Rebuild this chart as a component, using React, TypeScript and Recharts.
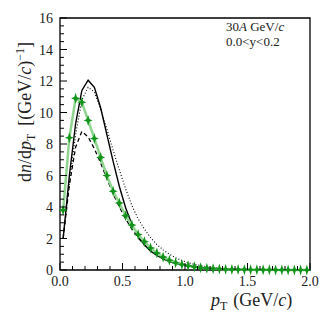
import { LineChart, Line, XAxis, YAxis, ReferenceArea } from 'recharts';

const PT = [
  0.025, 0.075, 0.125, 0.175, 0.225, 0.275, 0.325, 0.375, 0.425, 0.475,
  0.525, 0.575, 0.625, 0.675, 0.725, 0.775, 0.825, 0.875, 0.925, 0.975,
  1.025, 1.075, 1.125, 1.175, 1.225, 1.275, 1.325, 1.375, 1.425, 1.475,
  1.525, 1.575, 1.625, 1.675, 1.725, 1.775, 1.825, 1.875, 1.925, 1.975,
];

const DATA_GREEN = [
  3.8, 8.4, 10.9, 10.65, 9.5, 8.35, 7.15, 6.0, 5.0, 4.25,
  3.45, 2.85, 2.25, 1.8, 1.4, 1.08, 0.82, 0.62, 0.46, 0.35,
  0.27, 0.2, 0.15, 0.11, 0.085, 0.065, 0.05, 0.038, 0.029, 0.022,
  0.017, 0.013, 0.01, 0.008, 0.006, 0.005, 0.004, 0.003, 0.002, 0.002,
];

const MODEL_SOLID = [
  2.0, 6.0, 9.3, 11.4, 12.05, 11.6, 10.3, 8.6, 6.9, 5.3,
  3.95, 2.9, 2.15, 1.6, 1.2, 0.92, 0.7, 0.54, 0.42, 0.33,
  0.26, 0.2, 0.155, 0.12, 0.095, 0.075, 0.058, 0.045, 0.035, 0.028,
  0.022, 0.017, 0.013, 0.01, 0.008, 0.006, 0.005, 0.004, 0.003, 0.002,
];

const MODEL_DASHED = [
  2.0, 5.4, 7.8, 8.8, 8.45, 7.7, 6.8, 5.8, 4.85, 4.0,
  3.25, 2.6, 2.05, 1.6, 1.25, 0.97, 0.75, 0.58, 0.44, 0.34,
  0.26, 0.2, 0.15, 0.11, 0.085, 0.065, 0.05, 0.038, 0.029, 0.022,
  0.017, 0.013, 0.01, 0.008, 0.006, 0.005, 0.004, 0.003, 0.002, 0.002,
];

const MODEL_DOTTED = [
  2.0, 5.5, 8.6, 10.8, 11.6, 11.3, 10.2, 8.95, 7.6, 6.35,
  5.15, 4.1, 3.25, 2.6, 2.05, 1.62, 1.28, 1.0, 0.78, 0.6,
  0.46, 0.36, 0.28, 0.21, 0.16, 0.12, 0.09, 0.07, 0.054, 0.041,
  0.031, 0.024, 0.018, 0.014, 0.011, 0.008, 0.006, 0.005, 0.004, 0.003,
];

const X_TICKS = [
  0, 0.1, 0.2, 0.3, 0.4, 0.5, 0.6, 0.7, 0.8, 0.9, 1.0,
  1.1, 1.2, 1.3, 1.4, 1.5, 1.6, 1.7, 1.8, 1.9, 2.0,
];
const Y_TICKS = [
  0, 0.5, 1, 1.5, 2, 2.5, 3, 3.5, 4, 4.5, 5, 5.5, 6, 6.5, 7, 7.5, 8,
  8.5, 9, 9.5, 10, 10.5, 11, 11.5, 12, 12.5, 13, 13.5, 14, 14.5, 15, 15.5, 16,
];

const FONT = '"Liberation Serif", "DejaVu Serif", serif';

const chartData = PT.map((pt, i) => ({
  pt,
  green: DATA_GREEN[i],
  solid: MODEL_SOLID[i],
  dashed: MODEL_DASHED[i],
  dotted: MODEL_DOTTED[i],
}));

function XTick(props: any) {
  const { x, y, payload } = props;
  const v = payload.value;
  const major = Math.abs(v * 2 - Math.round(v * 2)) < 1e-6;
  return (
    <g>
      <line x1={x} y1={y} x2={x} y2={y - (major ? 7 : 4)} stroke="#000" strokeWidth={1} />
      {major && (
        <text x={x} y={y + 16} textAnchor="middle" fontFamily={FONT} fontSize={14} fill="#222">
          {v.toFixed(1)}
        </text>
      )}
    </g>
  );
}

function YTick(props: any) {
  const { x, y, payload } = props;
  const v = payload.value;
  const major = Math.abs(v / 2 - Math.round(v / 2)) < 1e-6;
  return (
    <g>
      <line x1={x} y1={y} x2={x + (major ? 7 : 4)} y2={y} stroke="#000" strokeWidth={1} />
      {major && (
        <text x={x - 7} y={y + 5} textAnchor="end" fontFamily={FONT} fontSize={14} fill="#222">
          {v}
        </text>
      )}
    </g>
  );
}

function StarDot(props: any) {
  const { cx, cy, index } = props;
  if (cx == null || cy == null) return <g key={index} />;
  const h = 5.5;
  const w = 4.5;
  const r = 1.3;
  const d = `M${cx},${cy - h} L${cx + r},${cy - r} L${cx + w},${cy} L${cx + r},${cy + r} L${cx},${cy + h} L${cx - r},${cy + r} L${cx - w},${cy} L${cx - r},${cy - r} Z`;
  return <path key={index} d={d} fill="#12941a" stroke="none" />;
}

export default function App() {
  return (
    <div style={{ position: 'absolute', left: 0, top: 0, width: 332, height: 323, background: '#fff' }}>
      <LineChart width={332} height={323} data={chartData} margin={{ top: 18, right: 22, left: 0, bottom: 0 }}>
        <XAxis
          dataKey="pt"
          type="number"
          domain={[0, 2]}
          ticks={X_TICKS}
          interval={0}
          tick={<XTick />}
          tickLine={false}
          tickSize={0}
          tickMargin={0}
          height={53}
          axisLine={false}
        />
        <YAxis
          type="number"
          domain={[0, 16]}
          ticks={Y_TICKS}
          interval={0}
          tick={<YTick />}
          tickLine={false}
          tickSize={0}
          tickMargin={0}
          width={60}
          axisLine={false}
        />
        <ReferenceArea x1={0} x2={2} y1={0} y2={16} fill="none" stroke="#000" strokeWidth={1.3} ifOverflow="visible" />
        <Line dataKey="dotted" type="linear" stroke="#000" strokeWidth={1.1} strokeDasharray="1 2" dot={false} isAnimationActive={false} />
        <Line dataKey="dashed" type="linear" stroke="#000" strokeWidth={1.3} strokeDasharray="4 3" dot={false} isAnimationActive={false} />
        <Line dataKey="solid" type="linear" stroke="#000" strokeWidth={1.4} dot={false} isAnimationActive={false} />
        <Line
          dataKey="green"
          type="linear"
          stroke="#8fd48f"
          strokeWidth={2.5}
          dot={(p: any) => <StarDot key={p.index} {...p} />}
          isAnimationActive={false}
        />
      </LineChart>
      <svg width={332} height={323} style={{ position: 'absolute', left: 0, top: 0, pointerEvents: 'none' }}>
        <text x={226} y={31} fontFamily={FONT} fontSize={13} fill="#222">
          30<tspan fontStyle="italic">A</tspan> GeV/<tspan fontStyle="italic">c</tspan>
        </text>
        <text x={226} y={46} fontFamily={FONT} fontSize={13} fill="#222">
          0.0&lt;y&lt;0.2
        </text>
        <text x={211} y={306} fontFamily={FONT} fontSize={18} fill="#222">
          <tspan fontStyle="italic">p</tspan>
          <tspan fontSize={12} dy={4}>T</tspan>
          <tspan dy={-4} dx={6}>(GeV/</tspan>
          <tspan fontStyle="italic">c</tspan>)
        </text>
        <text
          x={31}
          y={112}
          transform="rotate(-90 31 112)"
          textAnchor="middle"
          fontFamily={FONT}
          fontSize={18}
          fill="#222"
        >
          d<tspan fontStyle="italic">n</tspan>/d<tspan fontStyle="italic">p</tspan>
          <tspan fontSize={12} dy={4}>T</tspan>
          <tspan dy={-4} dx={8}>[(GeV/</tspan>
          <tspan fontStyle="italic">c</tspan>)
          <tspan fontSize={12} dy={-7}>−1</tspan>
          <tspan dy={7}>]</tspan>
        </text>
      </svg>
    </div>
  );
}
